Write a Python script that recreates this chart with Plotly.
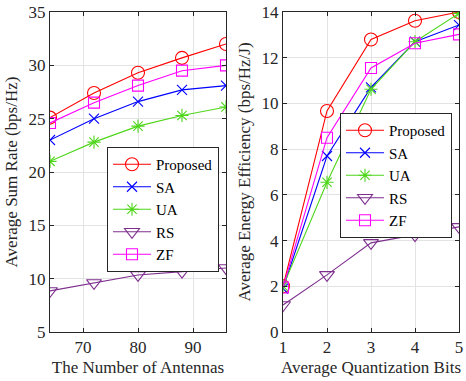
import plotly.graph_objects as go

antennas = [64, 72, 80, 88, 96]
bits = [1, 2, 3, 4, 5]

names = ["Proposed", "SA", "UA", "RS", "ZF"]
colors = ["#FF0000", "#0000FF", "#4DD61A", "#7E2F8E", "#FF00FF"]
symbols = ["circle-open", "x-thin-open", "asterisk-open", "triangle-down-open", "square-open"]
sizes = [13, 10, 11, 13, 11]

rate_proposed = [25.1, 27.4, 29.3, 30.7, 32.0]
rate_sa = [23.0, 25.0, 26.6, 27.7, 28.1]
rate_ua = [21.0, 22.8, 24.3, 25.3, 26.1]
rate_rs = [8.85, 9.6, 10.35, 10.66, 11.0]
rate_zf = [24.6, 26.5, 28.1, 29.5, 30.0]

ee_proposed = [2.0, 9.67, 12.8, 13.62, 14.0]
ee_sa = [1.9, 7.7, 10.7, 12.7, 13.43]
ee_ua = [2.0, 6.55, 10.62, 12.7, 13.94]
ee_rs = [1.18, 2.5, 3.9, 4.24, 4.6]
ee_zf = [1.95, 8.5, 11.55, 12.63, 13.02]

rates = [rate_proposed, rate_sa, rate_ua, rate_rs, rate_zf]
ees = [ee_proposed, ee_sa, ee_ua, ee_rs, ee_zf]

FONT = "Liberation Serif"
fig = go.Figure()

for i, n in enumerate(names):
    fig.add_trace(go.Scatter(
        x=antennas, y=rates[i], name=n, mode="lines+markers",
        line=dict(color=colors[i], width=1.1),
        marker=dict(symbol=symbols[i], size=sizes[i], color=colors[i], line=dict(width=1.1, color=colors[i])),
        xaxis="x", yaxis="y", legend="legend"))
for i, n in enumerate(names):
    fig.add_trace(go.Scatter(
        x=bits, y=ees[i], name=n, mode="lines+markers",
        line=dict(color=colors[i], width=1.1),
        marker=dict(symbol=symbols[i], size=sizes[i], color=colors[i], line=dict(width=1.1, color=colors[i])),
        xaxis="x2", yaxis="y2", legend="legend2"))

ax = dict(showline=True, linecolor="#262626", linewidth=1, mirror="ticks",
          ticks="inside", ticklen=4, tickcolor="#262626",
          showgrid=True, gridcolor="#E3E3E3", gridwidth=1, zeroline=False,
          automargin=False,
          tickfont=dict(family=FONT, size=17, color="#262626"),
          title_font=dict(family=FONT, size=17, color="#262626"))

y0, y1 = 1 - 332 / 381, 1 - 12 / 381
leg = dict(xanchor="left", yanchor="top",
           bgcolor="white", bordercolor="#262626", borderwidth=1,
           font=dict(family=FONT, size=15, color="#000000"), tracegroupgap=0,
           itemwidth=38)
fig.update_layout(
    width=466, height=381,
    margin=dict(l=0, r=0, t=0, b=0, autoexpand=False),
    paper_bgcolor="white", plot_bgcolor="white",
    font=dict(family=FONT, color="#262626"),
    xaxis=dict(ax, domain=[50 / 466, 226 / 466], range=[64, 96], tickvals=[70, 80, 90],
               title=dict(text="The Number of Antennas", standoff=4), anchor="y"),
    yaxis=dict(ax, domain=[y0, y1], range=[5, 35], tickvals=[5, 10, 15, 20, 25, 30, 35],
               title=dict(text="Average Sum Rate (bps/Hz)", standoff=6), anchor="x"),
    xaxis2=dict(ax, domain=[283 / 466, 459 / 466], range=[1, 5], tickvals=[1, 2, 3, 4, 5],
                title=dict(text="Average Quantization Bits", standoff=4), anchor="y2"),
    yaxis2=dict(ax, domain=[y0, y1], range=[0, 14], tickvals=[0, 2, 4, 6, 8, 10, 12, 14],
                title=dict(text="Average Energy Efficiency (bps/Hz/J)", standoff=6), anchor="x2"),
    legend=dict(leg, x=107 / 466, y=1 - 147 / 381),
    legend2=dict(leg, x=340 / 466, y=1 - 113 / 381),
)

fig.write_html("out.html", config={"displayModeBar": False},
               post_script="document.body.style.margin='0';document.body.style.overflow='hidden';")
